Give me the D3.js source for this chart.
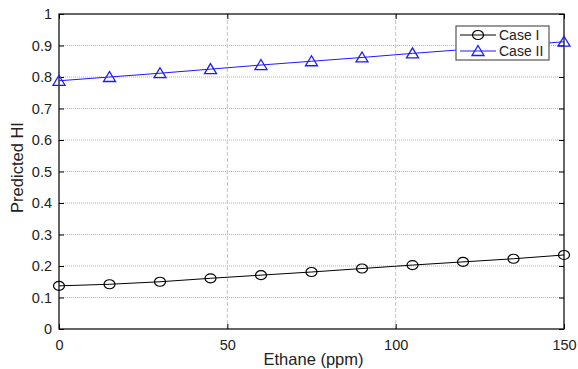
<!DOCTYPE html>
<html>
<head>
<meta charset="utf-8">
<script src="https://cdn.jsdelivr.net/npm/d3@7"></script>
<style>
  body { margin: 0; background: #fff; }
  text { font-family: "Liberation Sans", Arial, sans-serif; }
</style>
</head>
<body>
<div id="content"></div>
<script>
var ethane = [0, 15, 30, 45, 60, 75, 90, 105, 120, 135, 150];
var caseI = [0.137, 0.142, 0.150, 0.161, 0.171, 0.181, 0.192, 0.203, 0.213, 0.223, 0.235];
var caseII = [0.788, 0.800, 0.812, 0.825, 0.838, 0.850, 0.862, 0.875, 0.887, 0.899, 0.912];
var xTicks = [0, 50, 100, 150];
var yTicks = [0, 0.1, 0.2, 0.3, 0.4, 0.5, 0.6, 0.7, 0.8, 0.9, 1];
var seriesNames = ["Case I", "Case II"];

var W = 578, H = 369;
var margin = { top: 14, right: 14, bottom: 40, left: 59 },
    width = 564 - margin.left,
    height = 329 - margin.top;

var x = d3.scaleLinear().domain([0, 150]).range([0, width]);
var y = d3.scaleLinear().domain([0, 1]).range([height, 0]);

var svg = d3.select("#content").append("svg")
    .attr("width", W)
    .attr("height", H);
var g = svg.append("g")
    .attr("transform", "translate(" + margin.left + "," + margin.top + ")");

// grid
g.selectAll(".hgrid").data(yTicks.slice(1, -1)).enter().append("line")
    .attr("x1", 0).attr("x2", width)
    .attr("y1", function (d) { return y(d); })
    .attr("y2", function (d) { return y(d); })
    .attr("stroke", "#b4b4b4").attr("stroke-width", 1)
    .attr("stroke-dasharray", "1,1");
g.selectAll(".vgrid").data(xTicks.slice(1, -1)).enter().append("line")
    .attr("y1", 0).attr("y2", height)
    .attr("x1", function (d) { return x(d); })
    .attr("x2", function (d) { return x(d); })
    .attr("stroke", "#c4c4c4").attr("stroke-width", 1)
    .attr("stroke-dasharray", "4,2");

// axes
function styleAxis(sel) {
  sel.select(".domain").remove();
  sel.selectAll(".tick line").attr("stroke", "#000");
  sel.selectAll(".tick text")
    .attr("fill", "#222")
    .style("font-size", "14.5px");
}
g.append("g")
    .attr("transform", "translate(0," + height + ")")
    .call(d3.axisBottom(x).tickValues(xTicks).tickSize(-5).tickPadding(11).tickFormat(d3.format("d")))
    .call(styleAxis);
g.append("g")
    .call(d3.axisLeft(y).tickValues(yTicks).tickSize(-5).tickPadding(7).tickFormat(function (d) { return d === 0 || d === 1 ? d : d3.format(".1f")(d); }))
    .call(styleAxis);
g.append("g")
    .call(d3.axisTop(x).tickValues(xTicks).tickSize(-5).tickFormat(""))
    .call(styleAxis);
g.append("g")
    .attr("transform", "translate(" + width + ",0)")
    .call(d3.axisRight(y).tickValues(yTicks).tickSize(-5).tickFormat(""))
    .call(styleAxis);
g.append("rect")
    .attr("width", width).attr("height", height)
    .attr("fill", "none").attr("stroke", "#000").attr("stroke-width", 1.2);

// lines
var line = d3.line()
    .x(function (d, i) { return x(ethane[i]); })
    .y(function (d) { return y(d); });

g.append("path").datum(caseI)
    .attr("d", line).attr("fill", "none").attr("stroke", "#000").attr("stroke-width", 1);
g.append("path").datum(caseII)
    .attr("d", line).attr("fill", "none").attr("stroke", "#1a1aff").attr("stroke-width", 1);

function circleMark(sel) {
  sel.append("ellipse").attr("rx", 5.5).attr("ry", 4.5)
    .attr("fill", "none").attr("stroke", "#000").attr("stroke-width", 1.2);
}
function triMark(sel) {
  sel.append("path").attr("d", "M0,-5.5L6,4.5L-6,4.5Z")
    .attr("fill", "none").attr("stroke", "#1a1aff").attr("stroke-width", 1.3);
}

g.selectAll(".m1").data(caseI).enter().append("g")
    .attr("transform", function (d, i) { return "translate(" + x(ethane[i]) + "," + y(d) + ")"; })
    .call(circleMark);
g.selectAll(".m2").data(caseII).enter().append("g")
    .attr("transform", function (d, i) { return "translate(" + x(ethane[i]) + "," + y(d) + ")"; })
    .call(triMark);

// legend
var lg = svg.append("g").attr("transform", "translate(456,26)");
lg.append("rect").attr("width", 93).attr("height", 34)
    .attr("fill", "#fff").attr("stroke", "#555").attr("stroke-width", 1.2);
seriesNames.forEach(function (name, i) {
  var yy = 9 + i * 16;
  var col = i === 0 ? "#000" : "#1a1aff";
  lg.append("line").attr("x1", 4).attr("x2", 40).attr("y1", yy).attr("y2", yy)
    .attr("stroke", col).attr("stroke-width", 1);
  var m = lg.append("g").attr("transform", "translate(22," + yy + ")");
  if (i === 0) circleMark(m); else triMark(m);
  lg.append("text").attr("x", 43).attr("y", yy + 5)
    .style("font-size", "14px").attr("fill", "#222").text(name);
});

// axis labels
svg.append("text")
    .attr("x", margin.left + width / 2 + 2).attr("y", 365)
    .attr("text-anchor", "middle").style("font-size", "16.5px").attr("fill", "#222")
    .text("Ethane (ppm)");
svg.append("text")
    .attr("transform", "translate(23," + (margin.top + height / 2 - 4) + ") rotate(-90)")
    .attr("text-anchor", "middle").style("font-size", "16.5px").attr("fill", "#222")
    .text("Predicted HI");
</script>
</body>
</html>
